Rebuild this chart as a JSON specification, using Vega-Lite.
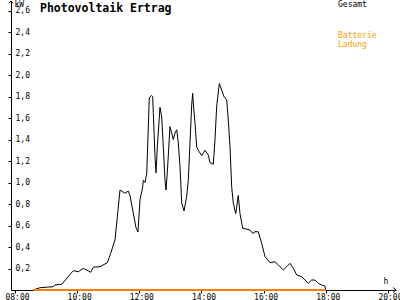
{
  "$schema": "https://vega.github.io/schema/vega-lite/v6.json",
  "width": 385,
  "height": 289,
  "autosize": {"type": "none"},
  "padding": {"left": 11, "top": 1, "right": 4, "bottom": 10},
  "background": "white",
  "title": {"text": "Photovoltaik Ertrag", "anchor": "start", "frame": "group", "dx": 29, "offset": -15, "dy": 0, "font": "DejaVu Sans Mono", "fontSize": 11.5, "fontWeight": "bold", "color": "black", "baseline": "top"},
  "datasets": {
    "pv": [
      {"t": 8.589, "kw": 0, "series": "Gesamt"},
      {"t": 8.804, "kw": 0.021, "series": "Gesamt"},
      {"t": 9.232, "kw": 0.031, "series": "Gesamt"},
      {"t": 9.287, "kw": 0.047, "series": "Gesamt"},
      {"t": 9.503, "kw": 0.053, "series": "Gesamt"},
      {"t": 9.876, "kw": 0.18, "series": "Gesamt"},
      {"t": 10.037, "kw": 0.17, "series": "Gesamt"},
      {"t": 10.198, "kw": 0.202, "series": "Gesamt"},
      {"t": 10.436, "kw": 0.165, "series": "Gesamt"},
      {"t": 10.519, "kw": 0.212, "series": "Gesamt"},
      {"t": 10.735, "kw": 0.217, "series": "Gesamt"},
      {"t": 10.97, "kw": 0.254, "series": "Gesamt"},
      {"t": 11.079, "kw": 0.341, "series": "Gesamt"},
      {"t": 11.217, "kw": 0.465, "series": "Gesamt"},
      {"t": 11.314, "kw": 0.74, "series": "Gesamt"},
      {"t": 11.378, "kw": 0.93, "series": "Gesamt"},
      {"t": 11.539, "kw": 0.9, "series": "Gesamt"},
      {"t": 11.645, "kw": 0.92, "series": "Gesamt"},
      {"t": 11.7, "kw": 0.88, "series": "Gesamt"},
      {"t": 11.893, "kw": 0.58, "series": "Gesamt"},
      {"t": 11.957, "kw": 0.54, "series": "Gesamt"},
      {"t": 12.022, "kw": 0.84, "series": "Gesamt"},
      {"t": 12.109, "kw": 0.96, "series": "Gesamt"},
      {"t": 12.128, "kw": 1.02, "series": "Gesamt"},
      {"t": 12.183, "kw": 1.0, "series": "Gesamt"},
      {"t": 12.238, "kw": 1.08, "series": "Gesamt"},
      {"t": 12.321, "kw": 1.79, "series": "Gesamt"},
      {"t": 12.398, "kw": 1.81, "series": "Gesamt"},
      {"t": 12.43, "kw": 1.8, "series": "Gesamt"},
      {"t": 12.45, "kw": 1.65, "series": "Gesamt"},
      {"t": 12.505, "kw": 1.24, "series": "Gesamt"},
      {"t": 12.537, "kw": 1.09, "series": "Gesamt"},
      {"t": 12.579, "kw": 1.33, "series": "Gesamt"},
      {"t": 12.665, "kw": 1.7, "series": "Gesamt"},
      {"t": 12.72, "kw": 1.61, "series": "Gesamt"},
      {"t": 12.772, "kw": 1.33, "series": "Gesamt"},
      {"t": 12.826, "kw": 1.02, "series": "Gesamt"},
      {"t": 12.858, "kw": 0.93, "series": "Gesamt"},
      {"t": 12.9, "kw": 1.09, "series": "Gesamt"},
      {"t": 12.987, "kw": 1.52, "series": "Gesamt"},
      {"t": 13.042, "kw": 1.46, "series": "Gesamt"},
      {"t": 13.093, "kw": 1.4, "series": "Gesamt"},
      {"t": 13.148, "kw": 1.46, "series": "Gesamt"},
      {"t": 13.203, "kw": 1.49, "series": "Gesamt"},
      {"t": 13.254, "kw": 1.37, "series": "Gesamt"},
      {"t": 13.309, "kw": 1.15, "series": "Gesamt"},
      {"t": 13.364, "kw": 0.81, "series": "Gesamt"},
      {"t": 13.438, "kw": 0.735, "series": "Gesamt"},
      {"t": 13.524, "kw": 0.87, "series": "Gesamt"},
      {"t": 13.576, "kw": 1.02, "series": "Gesamt"},
      {"t": 13.685, "kw": 1.72, "series": "Gesamt"},
      {"t": 13.717, "kw": 1.83, "series": "Gesamt"},
      {"t": 13.737, "kw": 1.74, "series": "Gesamt"},
      {"t": 13.792, "kw": 1.55, "series": "Gesamt"},
      {"t": 13.846, "kw": 1.33, "series": "Gesamt"},
      {"t": 13.898, "kw": 1.3, "series": "Gesamt"},
      {"t": 14.007, "kw": 1.25, "series": "Gesamt"},
      {"t": 14.113, "kw": 1.3, "series": "Gesamt"},
      {"t": 14.219, "kw": 1.255, "series": "Gesamt"},
      {"t": 14.274, "kw": 1.185, "series": "Gesamt"},
      {"t": 14.38, "kw": 1.17, "series": "Gesamt"},
      {"t": 14.435, "kw": 1.4, "series": "Gesamt"},
      {"t": 14.489, "kw": 1.71, "series": "Gesamt"},
      {"t": 14.573, "kw": 1.92, "series": "Gesamt"},
      {"t": 14.65, "kw": 1.86, "series": "Gesamt"},
      {"t": 14.724, "kw": 1.8, "series": "Gesamt"},
      {"t": 14.811, "kw": 1.77, "series": "Gesamt"},
      {"t": 14.863, "kw": 1.58, "series": "Gesamt"},
      {"t": 14.917, "kw": 1.34, "series": "Gesamt"},
      {"t": 14.972, "kw": 0.96, "series": "Gesamt"},
      {"t": 15.023, "kw": 0.81, "series": "Gesamt"},
      {"t": 15.101, "kw": 0.71, "series": "Gesamt"},
      {"t": 15.152, "kw": 0.81, "series": "Gesamt"},
      {"t": 15.184, "kw": 0.88, "series": "Gesamt"},
      {"t": 15.239, "kw": 0.71, "series": "Gesamt"},
      {"t": 15.326, "kw": 0.575, "series": "Gesamt"},
      {"t": 15.561, "kw": 0.558, "series": "Gesamt"},
      {"t": 15.648, "kw": 0.527, "series": "Gesamt"},
      {"t": 15.722, "kw": 0.542, "series": "Gesamt"},
      {"t": 15.828, "kw": 0.542, "series": "Gesamt"},
      {"t": 15.937, "kw": 0.434, "series": "Gesamt"},
      {"t": 16.044, "kw": 0.31, "series": "Gesamt"},
      {"t": 16.204, "kw": 0.254, "series": "Gesamt"},
      {"t": 16.365, "kw": 0.263, "series": "Gesamt"},
      {"t": 16.472, "kw": 0.233, "series": "Gesamt"},
      {"t": 16.633, "kw": 0.186, "series": "Gesamt"},
      {"t": 16.742, "kw": 0.217, "series": "Gesamt"},
      {"t": 16.848, "kw": 0.248, "series": "Gesamt"},
      {"t": 16.954, "kw": 0.202, "series": "Gesamt"},
      {"t": 17.064, "kw": 0.14, "series": "Gesamt"},
      {"t": 17.224, "kw": 0.124, "series": "Gesamt"},
      {"t": 17.331, "kw": 0.093, "series": "Gesamt"},
      {"t": 17.437, "kw": 0.062, "series": "Gesamt"},
      {"t": 17.546, "kw": 0.093, "series": "Gesamt"},
      {"t": 17.652, "kw": 0.093, "series": "Gesamt"},
      {"t": 17.758, "kw": 0.062, "series": "Gesamt"},
      {"t": 17.868, "kw": 0.047, "series": "Gesamt"},
      {"t": 17.97, "kw": 0.037, "series": "Gesamt"},
      {"t": 18.0, "kw": 0, "series": "Gesamt"}
    ],
    "bat": [
      {"t": 8.589, "kw": 0, "series": "Batterie Ladung"},
      {"t": 18.0, "kw": 0, "series": "Batterie Ladung"}
    ]
  },
  "layer": [
    {
      "data": {"name": "pv"},
      "mark": {"type": "line", "strokeWidth": 1, "interpolate": "linear"},
      "encoding": {
        "x": {"field": "t", "type": "quantitative",
          "scale": {"domain": [7.8713, 20.2587], "nice": false, "zero": false},
          "axis": {"values": [8, 10, 12, 14, 16, 18, 20], "tickCount": 20,
            "labelExpr": "(datum.value < 10 ? '0' : '') + datum.value + ':00'",
            "tickSize": 3, "labelPadding": 0, "labelOffset": 2,
            "labelFlush": false, "labelOverlap": false, "labelBound": false,
            "encode": {"ticks": {"update": {"y": {"value": -3}}}},
            "title": "h", "titleX": 374.5, "titleY": -8.5, "titleAlign": "center", "titleBaseline": "middle"}},
        "y": {"field": "kw", "type": "quantitative",
          "scale": {"domain": [0, 2.6884], "nice": false},
          "axis": {"values": [0.2, 0.4, 0.6, 0.8, 1.0, 1.2, 1.4, 1.6, 1.8, 2.0, 2.2, 2.4, 2.6], "tickCount": 20,
            "labelExpr": "replace(format(datum.value, '.1f'), '.', ',')",
            "tickSize": 3, "labelPadding": -7, "labelAlign": "left", "labelBaseline": "middle",
            "labelOverlap": false, "labelBound": false,
            "encode": {"ticks": {"update": {"x": {"value": 3}}}},
            "title": "kW", "titleX": 3, "titleY": 3, "titleAngle": 0, "titleAlign": "left", "titleBaseline": "middle"}},
        "color": {"field": "series", "type": "nominal",
          "scale": {"domain": ["Gesamt", "Batterie Ladung"], "range": ["#000000", "#ff8000"]},
          "legend": {"orient": "none", "legendX": 319, "legendY": 0, "title": null,
            "symbolSize": 0, "symbolStrokeWidth": 0, "symbolOpacity": 0,
            "labelFont": "DejaVu Sans Mono", "labelFontSize": 8, "labelOffset": 0,
            "rowPadding": 23, "padding": 0,
            "labelExpr": "datum.value === 'Batterie Ladung' ? ['Batterie', 'Ladung'] : datum.label",
            "encode": {"labels": {"update": {"fill": {"signal": "datum.value === 'Gesamt' ? '#000000' : '#ffa000'"}, "lineHeight": {"value": 9}}}}}}
      }
    },
    {
      "data": {"name": "bat"},
      "mark": {"type": "line", "strokeWidth": 2},
      "encoding": {
        "x": {"field": "t", "type": "quantitative"},
        "y": {"field": "kw", "type": "quantitative"},
        "color": {"field": "series", "type": "nominal"}
      }
    },
    {
      "data": {"values": [{}]},
      "mark": {"type": "point", "shape": "M-1,1.2L0,0L1,1.2", "filled": false, "stroke": "#000000", "strokeWidth": 1, "size": 16, "opacity": 1},
      "encoding": {
        "x": {"datum": 7.8713, "type": "quantitative"},
        "y": {"datum": 2.6884, "type": "quantitative"}
      }
    },
    {
      "data": {"values": [{}]},
      "mark": {"type": "point", "shape": "M-1.2,-1L0,0L-1.2,1", "filled": false, "stroke": "#000000", "strokeWidth": 1, "size": 25, "opacity": 1},
      "encoding": {
        "x": {"datum": 20.2587, "type": "quantitative"},
        "y": {"datum": 0, "type": "quantitative"}
      }
    }
  ],
  "config": {
    "view": {"stroke": null},
    "axis": {"labelFont": "DejaVu Sans Mono", "labelFontSize": 8, "titleFont": "DejaVu Sans Mono", "titleFontSize": 8, "titleFontWeight": "normal", "domainColor": "#000000", "tickColor": "#000000", "labelColor": "#000000", "titleColor": "#000000", "grid": false, "domainWidth": 1, "tickWidth": 1}
  }
}
